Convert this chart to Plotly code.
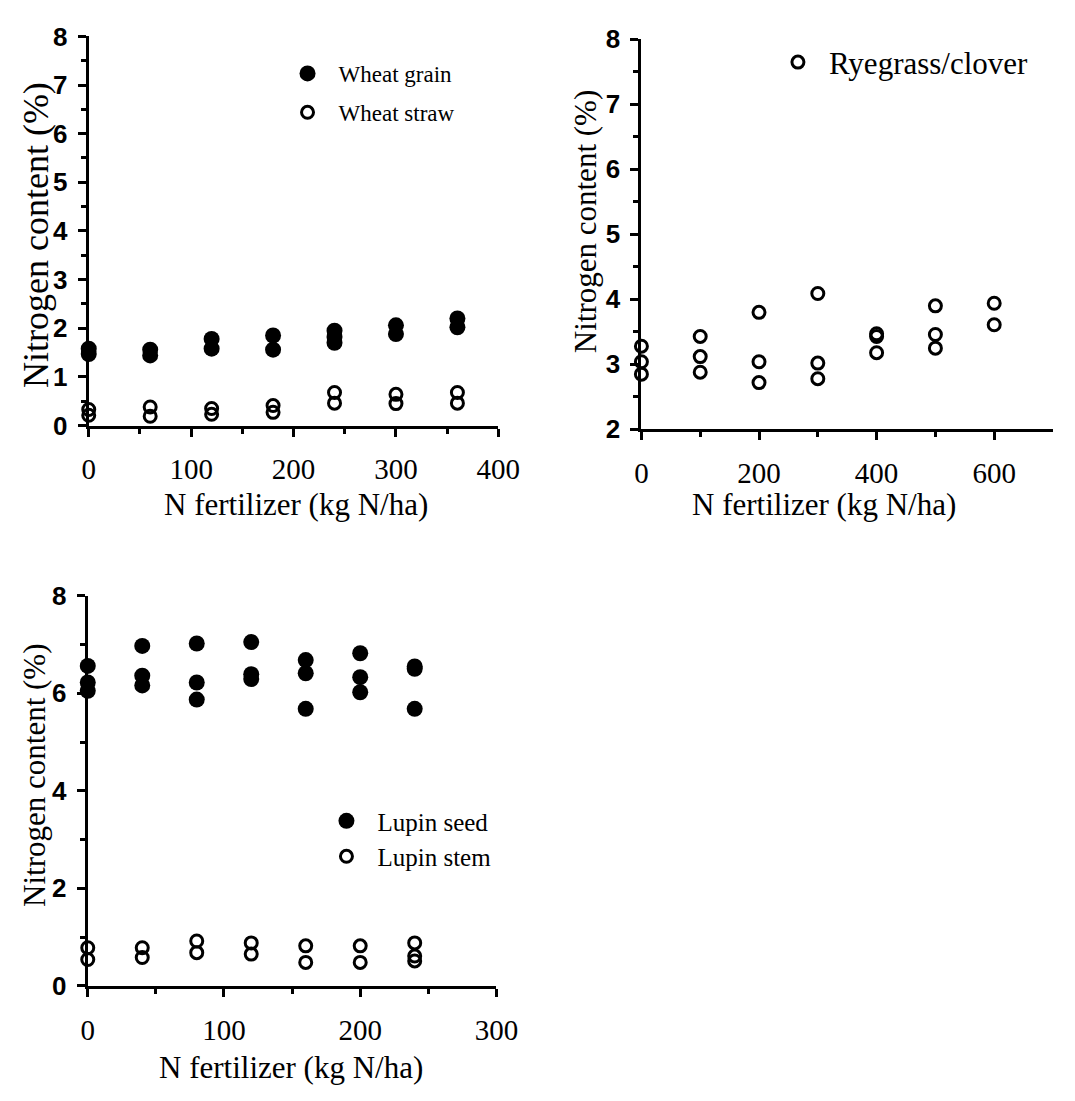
import plotly.graph_objects as go

W, H = 1075, 1101

# ---- data: nitrogen content (%) against N fertilizer rate (kg N/ha) ----
grain_n = [0, 0, 60, 60, 120, 120, 180, 180, 240, 240, 240, 300, 300, 360, 360]
grain_pct = [1.58, 1.47, 1.56, 1.44, 1.78, 1.58, 1.85, 1.56, 1.95, 1.82, 1.70, 2.06, 1.88, 2.20, 2.02]

straw_n = [0, 0, 60, 60, 120, 120, 180, 180, 240, 240, 300, 300, 360, 360]
straw_pct = [0.33, 0.21, 0.38, 0.19, 0.35, 0.23, 0.41, 0.27, 0.68, 0.46, 0.64, 0.45, 0.68, 0.46]

rye_n = [0, 0, 0, 100, 100, 100, 200, 200, 200, 300, 300, 300, 400, 400, 400, 500, 500, 500, 600, 600]
rye_pct = [3.28, 3.04, 2.85, 3.43, 3.12, 2.88, 3.80, 3.04, 2.72, 4.09, 3.02, 2.78,
           3.47, 3.43, 3.18, 3.90, 3.46, 3.25, 3.94, 3.61]

seed_n = [0, 0, 0, 40, 40, 40, 80, 80, 80, 120, 120, 120, 160, 160, 160, 200, 200, 200, 240, 240, 240]
seed_pct = [6.56, 6.22, 6.05, 6.97, 6.36, 6.16, 7.02, 6.22, 5.87, 7.05, 6.39, 6.29,
            6.68, 6.41, 5.68, 6.82, 6.33, 6.02, 6.55, 6.50, 5.68]

stem_n = [0, 0, 40, 40, 80, 80, 120, 120, 160, 160, 200, 200, 240, 240, 240]
stem_pct = [0.78, 0.54, 0.78, 0.58, 0.92, 0.68, 0.88, 0.65, 0.82, 0.48, 0.82, 0.48, 0.88, 0.61, 0.51]

x_title = "N fertilizer (kg N/ha)"
y_title = "Nitrogen content (%)"

SERIF = "Liberation Serif, Times New Roman, serif"
SANS = "Liberation Sans, Arial, sans-serif"


def fx(p):
    return p / W


def fy(p):
    return 1 - p / H


filled = dict(color="black", size=16, line=dict(width=0))
hollow = dict(symbol="circle-open", color="black", size=12, line=dict(width=3, color="black"))

fig = go.Figure()

fig.add_trace(go.Scatter(x=grain_n, y=grain_pct, mode="markers", name="Wheat grain",
                         marker=filled, xaxis="x", yaxis="y", legend="legend",
                         legendgroup="a", cliponaxis=False))
fig.add_trace(go.Scatter(x=straw_n, y=straw_pct, mode="markers", name="Wheat straw",
                         marker=hollow, xaxis="x", yaxis="y", legend="legend",
                         legendgroup="b", cliponaxis=False))
fig.add_trace(go.Scatter(x=rye_n, y=rye_pct, mode="markers", name="Ryegrass/clover",
                         marker=hollow, xaxis="x2", yaxis="y2", legend="legend2",
                         cliponaxis=False))
fig.add_trace(go.Scatter(x=seed_n, y=seed_pct, mode="markers", name="Lupin seed",
                         marker=filled, xaxis="x3", yaxis="y3", legend="legend3",
                         legendgroup="c", cliponaxis=False))
fig.add_trace(go.Scatter(x=stem_n, y=stem_pct, mode="markers", name="Lupin stem",
                         marker=hollow, xaxis="x3", yaxis="y3", legend="legend3",
                         legendgroup="d", cliponaxis=False))

axis_common = dict(showline=True, linecolor="black", linewidth=3, ticks="outside",
                   ticklen=8, tickwidth=3, tickcolor="black", showgrid=False,
                   zeroline=False, fixedrange=True)
xtick_font = dict(family=SERIF, size=29, color="black")
ytick_font = dict(family=SANS, size=26, color="black", weight="bold")
minor = lambda d: dict(ticks="outside", ticklen=5, tickwidth=2.5, tickcolor="black",
                       dtick=d, showgrid=False)

fig.update_layout(
    width=W, height=H, margin=dict(l=0, r=0, t=0, b=0),
    paper_bgcolor="white", plot_bgcolor="white",
    xaxis=dict(axis_common, domain=[fx(84), fx(505)], range=[0, 400], anchor="y",
               tickvals=[0, 100, 200, 300, 400], minor=minor(50), tickfont=xtick_font,
               ticklabelstandoff=8),
    yaxis=dict(axis_common, domain=[fy(422), fy(22)], range=[0, 8], anchor="x",
               dtick=1, minor=minor(0.5), tickfont=ytick_font, ticklabelstandoff=5),
    xaxis2=dict(axis_common, domain=[fx(652), 1.0], range=[0, 700], anchor="y2",
                tickvals=[0, 200, 400, 600], minor=dict(minor(100), tickvals=[100, 300, 500]),
                tickfont=xtick_font, ticklabelstandoff=8),
    yaxis2=dict(axis_common, domain=[fy(426), fy(25)], range=[2, 8], anchor="x2",
                dtick=1, minor=minor(0.5), tickfont=ytick_font, ticklabelstandoff=5),
    xaxis3=dict(axis_common, domain=[fx(83), fx(503)], range=[0, 300], anchor="y3",
                tickvals=[0, 100, 200, 300], minor=minor(50), tickfont=xtick_font,
                ticklabelstandoff=8),
    yaxis3=dict(axis_common, domain=[fy(998), fy(597)], range=[0, 8], anchor="x3",
                dtick=2, minor=minor(1), tickfont=ytick_font, ticklabelstandoff=5),
    legend=dict(x=fx(277), y=fy(38), xanchor="left", yanchor="top", itemwidth=52,
                font=dict(family=SERIF, size=23, color="black"), tracegroupgap=6,
                bgcolor="rgba(0,0,0,0)", itemclick=False, itemdoubleclick=False),
    legend2=dict(x=fx(781), y=fy(21), xanchor="left", yanchor="top", itemwidth=52,
                 font=dict(family=SERIF, size=31, color="black"),
                 bgcolor="rgba(0,0,0,0)", itemclick=False, itemdoubleclick=False),
    legend3=dict(x=fx(317), y=fy(805), xanchor="left", yanchor="top", itemwidth=52,
                 font=dict(family=SERIF, size=25, color="black"), tracegroupgap=0,
                 bgcolor="rgba(0,0,0,0)", itemclick=False, itemdoubleclick=False),
    showlegend=True,
)

title_font = dict(family=SERIF, size=31, color="black")
annotations = [
    dict(text=x_title, x=fx(297), y=fy(503), font=title_font),
    dict(text=x_title, x=fx(840), y=fy(503), font=title_font),
    dict(text=x_title, x=fx(292), y=fy(1082), font=title_font),
    dict(text=y_title, x=fx(30), y=fy(226), textangle=-90, font=dict(title_font, size=36)),
    dict(text=y_title, x=fx(594), y=fy(212), textangle=-90, font=title_font),
    dict(text=y_title, x=fx(28), y=fy(782), textangle=-90, font=title_font),
]
for a in annotations:
    fig.add_annotation(xref="paper", yref="paper", showarrow=False,
                       xanchor="center", yanchor="middle", **a)

fig.write_html("out.html")
